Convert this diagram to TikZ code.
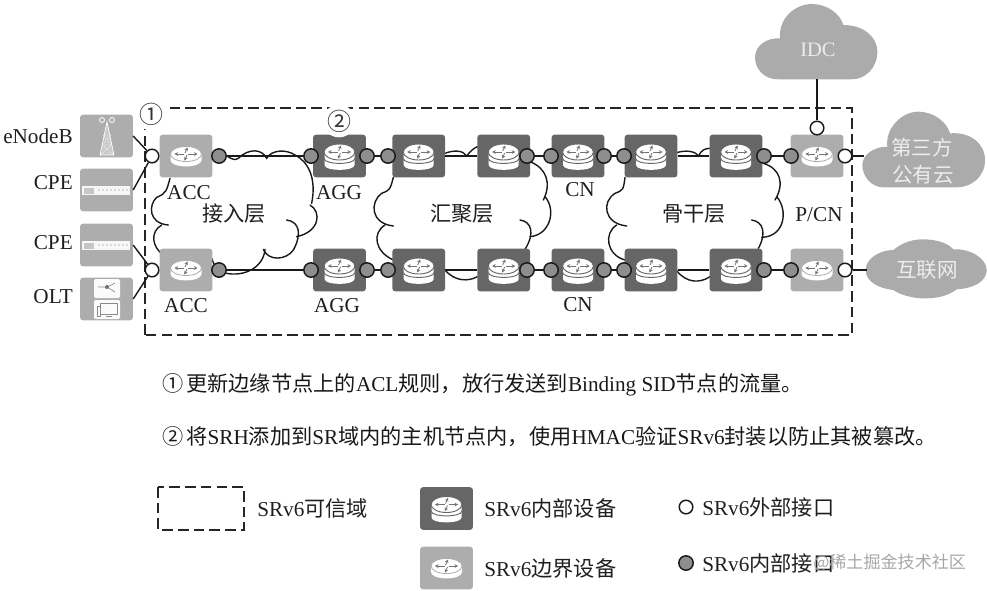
\documentclass[tikz,border=0pt]{standalone}
\usepackage{fontspec}
\setmainfont{Liberation Serif}
\newfontfamily\cjk{Noto Sans CJK SC}
\usetikzlibrary{arrows.meta}
\newcommand{\zh}[1]{{\cjk #1}}
\definecolor{darkdev}{HTML}{666666}
\definecolor{lightdev}{HTML}{ADADAD}
\definecolor{portgray}{HTML}{8E8E8E}
\definecolor{cloudgray}{HTML}{ABABAB}
\definecolor{cloudtxt}{HTML}{EDEDED}
\tikzset{
  txt/.style={inner sep=0pt,font=\fontsize{15.9pt}{18pt}\selectfont,text=black!88},
  cloudlabel/.style={inner sep=0pt,font=\fontsize{15.4pt}{18pt}\selectfont,text=cloudtxt},
  darkbox/.style={rectangle,fill=darkdev,rounded corners=2.2pt,minimum width=39.6pt,minimum height=32pt,inner sep=0pt},
  lightbox/.style={rectangle,fill=lightdev,rounded corners=2.2pt,minimum width=39.6pt,minimum height=32pt,inner sep=0pt},
  outport/.style={circle,draw=black!90,line width=1.1pt,fill=white,minimum size=10.2pt,inner sep=0pt},
  inport/.style={circle,draw=black!90,line width=1.1pt,fill=portgray,minimum size=10.8pt,inner sep=0pt},
  link/.style={draw=black!90,line width=1.05pt},
  bump/.style={draw=black!90,line width=1.05pt,line cap=round},
  trust/.style={draw=black!85,line width=1.05pt,dash pattern=on 8pt off 3.8pt},
  cloudshape/.style={fill=cloudgray},
  numcircle/.style={circle,fill=white,inner sep=0pt,minimum size=14pt,font=\cjk\fontsize{18pt}{20pt}\selectfont,text=black!80},
  iconarrow/.style={draw=black!55,line width=.6pt,-{Stealth[length=2.6pt,width=2.8pt]}},
  pics/routerarrows/.style={code={
    \draw[iconarrow] (-2,#1) -- (-11.5,#1);
    \draw[iconarrow] (2,#1) -- (11.5,#1);
    \draw[iconarrow] (-1,#1-1) -- (1.5,#1-6.5);
    \draw[iconarrow] (1,#1+1) -- (-1.5,#1+6.5);
  }},
  pics/darkicon/.style={code={
    \fill[white] (-15,-4) -- (-15,9) .. controls (-15,15.5) and (15,15.5) .. (15,9) -- (15,-4) -- cycle;
    \draw[darkdev,line width=.7pt] (-15.4,2.5) .. controls (-15,9) and (15,9) .. (15.4,2.5);
    \draw[darkdev,line width=.7pt,fill=white] (0,-4) ellipse [x radius=15.4,y radius=8];
    \pic {routerarrows=-4};
  }},
  pics/lighticon/.style={code={
    \fill[white] (-15.5,-2) -- (-15.5,4) .. controls (-15.5,12.5) and (15.5,12.5) .. (15.5,4) -- (15.5,-2) -- cycle;
    \draw[lightdev,line width=.6pt,fill=white] (0,-2) ellipse [x radius=15.5,y radius=7.5];
    \pic {routerarrows=-2};
  }},
}
\begin{document}
\begin{tikzpicture}[x=0.75pt,y=-0.75pt]
\useasboundingbox (0,0) rectangle (987,590);
% trust domain
\draw[trust] (145,335) -- (145,108) -- (852,108) -- (852,335) -- cycle;

% cloud outlines: layer 1
\begin{scope}[shift={(0,90)},x=0.25pt,y=-0.25pt]
\draw[bump] (680,197) .. controls (695,208) and (705,212) .. (715,205) .. controls (745,175) and (785,175) .. (800,205) .. controls (815,178) and (860,178) .. (885,195) .. controls (925,215) and (950,265) .. (935,340);
\draw[bump] (930,345) .. controls (965,365) and (960,425) .. (890,440);
\draw[bump] (860,390) .. controls (900,395) and (905,435) .. (880,480) .. controls (860,510) and (805,515) .. (790,478);
\draw[bump] (795,478) .. controls (790,535) and (730,560) .. (680,550) .. controls (660,548) and (645,535) .. (635,505);
\draw[bump] (510,265) .. controls (500,300) and (500,310) .. (470,322) .. controls (445,345) and (445,400) .. (505,405);
\draw[bump] (485,405) .. controls (450,425) and (455,470) .. (490,495);
\end{scope}
% cloud outlines: layer 2 and start of layer 3
\begin{scope}[shift={(340,90)},x=0.25pt,y=-0.25pt]
\draw[bump] (160,262) .. controls (150,300) and (150,300) .. (125,310) .. controls (90,335) and (90,400) .. (160,408);
\draw[bump] (135,405) .. controls (95,430) and (105,485) .. (160,510);
\draw[bump] (315,190) .. controls (340,180) and (370,180) .. (380,198) .. controls (390,185) and (400,175) .. (412,170);
\draw[bump] (570,215) .. controls (620,235) and (635,280) .. (610,330);
\draw[bump] (615,320) .. controls (650,360) and (630,435) .. (570,440);
\draw[bump] (540,390) .. controls (575,395) and (585,430) .. (555,478);
\draw[bump] (315,540) .. controls (345,575) and (385,575) .. (412,560);
\draw[bump] (855,262) .. controls (850,300) and (850,300) .. (825,310) .. controls (785,335) and (790,400) .. (860,408);
\draw[bump] (830,405) .. controls (790,430) and (800,495) .. (855,510);
\end{scope}
% layer 3, right part
\begin{scope}[shift={(680,0)},x=0.25pt,y=-0.25pt]
\draw[bump] (-10,458) .. controls (15,450) and (45,452) .. (55,468) .. controls (65,450) and (75,445) .. (90,445);
\draw[bump] (250,490) .. controls (300,505) and (315,550) .. (285,600);
\draw[bump] (290,590) .. controls (325,630) and (315,710) .. (245,712);
\draw[bump] (215,660) .. controls (250,665) and (260,700) .. (235,745);
\draw[bump] (-10,812) .. controls (20,850) and (60,850) .. (90,830);
\end{scope}

% filled clouds
\begin{scope}[shift={(680,0)},x=0.25pt,y=-0.25pt]
\fill[cloudshape] (295,238) .. controls (250,238) and (225,205) .. (225,172) .. controls (225,135) and (262,113) .. (300,115) .. controls (295,50) and (350,12) .. (395,12) .. controls (440,12) and (480,40) .. (490,75) .. controls (550,75) and (592,110) .. (592,155) .. controls (592,205) and (555,238) .. (515,238) -- cycle;
\fill[cloudshape] (610,562) .. controls (575,562) and (547,530) .. (547,495) .. controls (547,465) and (580,440) .. (622,440) .. controls (615,385) and (665,335) .. (715,335) .. controls (760,335) and (800,365) .. (810,400) .. controls (870,395) and (915,430) .. (915,480) .. controls (915,530) and (875,562) .. (830,562) -- cycle;
\fill[cloudshape] (557,810) .. controls (557,775) and (600,750) .. (640,750) .. controls (670,725) and (700,718) .. (730,718) .. controls (770,718) and (805,730) .. (820,748) .. controls (870,745) and (920,775) .. (920,810) .. controls (920,845) and (880,865) .. (830,868) .. controls (800,890) and (770,895) .. (730,895) .. controls (700,895) and (660,885) .. (640,870) .. controls (595,865) and (557,845) .. (557,810) -- cycle;
\end{scope}
\node[cloudlabel] (idc) at (818,50) {IDC};
\node[cloudlabel] (third1) at (922,148) {\zh{第三方}};
\node[cloudlabel] (third2) at (923,175) {\zh{公有云}};
\node[cloudlabel] (inet) at (927,270) {\zh{互联网}};
\coordinate (idcb) at (817,79);
\coordinate (thirdw) at (864,156);
\coordinate (inetw) at (867,270);

% access devices
\foreach \n/\y in {d1/136,d2/190,d3/245,d4/299}
  \node[lightbox] (\n) at (106.5,\y) {};
% tower icon
\draw[white,line width=.5pt,fill=white,fill opacity=.35] (107,122) -- (100,155) -- (114,155) -- cycle;
\draw[white,line width=.5pt,densely dotted] (103.5,135) -- (110.5,135) (102,145) -- (112,145) (103,135) -- (112,145) (111,135) -- (102,145) (105,128) -- (109,128) (100,155) -- (112,145) (114,155) -- (102,145);
\draw[white,line width=.6pt] (102,120) circle [radius=2.5] (112,120) circle [radius=2.5];
% switch icons
\foreach \y in {190,245}{
  \fill[white!90!lightdev] (82,\y-4) rectangle (130,\y+5);
  \fill[lightdev!70!white] (84,\y-2.5) rectangle (94,\y+3.5);
  \foreach \x in {99,103,...,127}
    \fill[black!55] (\x,\y) circle [radius=.7];
}
% OLT icon
\fill[white!95!lightdev,rounded corners=1pt] (94,279) rectangle (120,298);
\fill[white!95!lightdev,rounded corners=1pt] (94,300) rectangle (120,319);
\draw[black!45,line width=.5pt] (98,287) -- (107,287) (107,287) -- (115,283) (107,287) -- (115,292);
\fill[black!55] (107,287) circle [radius=2];
\draw[black!45,line width=.5pt] (100,303) rectangle (117,314) (97,306) rectangle (100,316) (106,316) -- (112,316);

% network devices
\foreach \n/\x/\y in {t2/339.5/156,t3/418.7/156,t4/503.7/156,t5/578/156,t6/651/156,t7/736/156,
                      b2/339.5/270,b3/418.7/270,b4/503.7/270,b5/578/270,b6/651/270,b7/736/270}
  \node[darkbox] (\n) at (\x,\y) {};
\foreach \n/\x/\y in {t1/186/156,t8/817/156,b1/186/270,b8/817/270}
  \node[lightbox] (\n) at (\x,\y) {};
\foreach \n in {t2,t3,t4,t5,t6,t7,b2,b3,b4,b5,b6,b7}
  \pic at (\n) {darkicon};
\foreach \n in {t1,t8,b1,b8}
  \pic at (\n) {lighticon};

% ports
\foreach \r/\y in {t/156,b/270}{
  \node[outport] (\r L) at (152,\y) {};
  \node[outport] (\r R) at (845,\y) {};
  \node[inport] (\r a) at (219,\y) {};
  \node[inport] (\r b) at (311,\y) {};
  \node[inport] (\r c) at (367,\y) {};
  \node[inport] (\r d) at (388,\y) {};
  \node[inport] (\r e) at (527,\y) {};
  \node[inport] (\r f) at (551,\y) {};
  \node[inport] (\r g) at (604,\y) {};
  \node[inport] (\r h) at (624,\y) {};
  \node[inport] (\r i) at (764,\y) {};
  \node[inport] (\r j) at (791,\y) {};
}
\node[outport] (tT) at (817,128) {};

% connectors
\foreach \r in {t,b}{
  \draw[link] (\r a) -- (\r b);
  \draw[link] (\r c) -- (\r d);
  \draw[link] (\r 3.east) -- (\r 4.west);
  \draw[link] (\r e) -- (\r f);
  \draw[link] (\r g) -- (\r h);
  \draw[link] (\r 6.east) -- (\r 7.west);
  \draw[link] (\r i) -- (\r j);
}
\draw[link] (d1.east) -- (tL);
\draw[link] (d2.east) -- (tL);
\draw[link] (d3.east) -- (bL);
\draw[link] (d4.east) -- (bL);
\draw[link] (tT) -- (idcb);
\draw[link] (tR) -- (thirdw);
\draw[link] (bR) -- (inetw);

% labels
\node[txt,anchor=east] (l1) at (73,136) {eNodeB};
\node[txt,anchor=east] (l2) at (73,183) {CPE};
\node[txt,anchor=east] (l3) at (73,243) {CPE};
\node[txt,anchor=east] (l4) at (73,297) {OLT};
\node[txt] (l5) at (189,193) {ACC};
\node[txt] (l6) at (186,306) {ACC};
\node[txt] (l7) at (339,193) {AGG};
\node[txt] (l8) at (337,306) {AGG};
\node[txt] (l9) at (580,190) {CN};
\node[txt] (l10) at (578,305) {CN};
\node[txt] (l11) at (819,215) {P/CN};
\node[txt] (l12) at (234,214) {\zh{接入层}};
\node[txt] (l13) at (462,214) {\zh{汇聚层}};
\node[txt] (l14) at (694,214) {\zh{骨干层}};
\node[numcircle] (n1) at (151,114) {①};
\node[numcircle] (n2) at (339,121) {②};

% notes
\node[txt,anchor=west,text=black!90] (note1) at (162,385) {\zh{①}\hspace{2.2pt}\zh{更新边缘节点上的}ACL\zh{规则，放行发送到}Binding SID\zh{节点的流量。}};
\node[txt,anchor=west,text=black!90] (note2) at (162,437) {\zh{②}\hspace{2.2pt}\zh{将}SRH\zh{添加到}SR\zh{域内的主机节点内，使用}HMAC\zh{验证}SRv6\zh{封装以防止其被篡改。}};

% legend
\draw[trust] (158,487) rectangle (244,530);
\node[txt,anchor=west] (lg1) at (257,508) {SRv6\zh{可信域}};
\node[darkbox] (lgd) at (446.5,508.5) {};
\pic at (lgd) {darkicon};
\node[lightbox] (lgl) at (446.5,568) {};
\pic at (lgl) {lighticon};
\node[txt,anchor=west] (lg2) at (484,508) {SRv6\zh{内部设备}};
\node[txt,anchor=west] (lg3) at (484,568) {SRv6\zh{边界设备}};
\node[outport] (lgo) at (686,507) {};
\node[inport] (lgi) at (686,563) {};
\node[txt,anchor=west] (lg4) at (702,507) {SRv6\zh{外部接口}};
\node[txt,anchor=west] (lg5) at (702,563) {SRv6\zh{内部接口}};
\node[inner sep=0pt,anchor=west,text=black!35,font=\fontsize{12.8pt}{15pt}\selectfont] (wm) at (813,563) {\zh{@稀土掘金技术社区}};
\end{tikzpicture}
\end{document}
